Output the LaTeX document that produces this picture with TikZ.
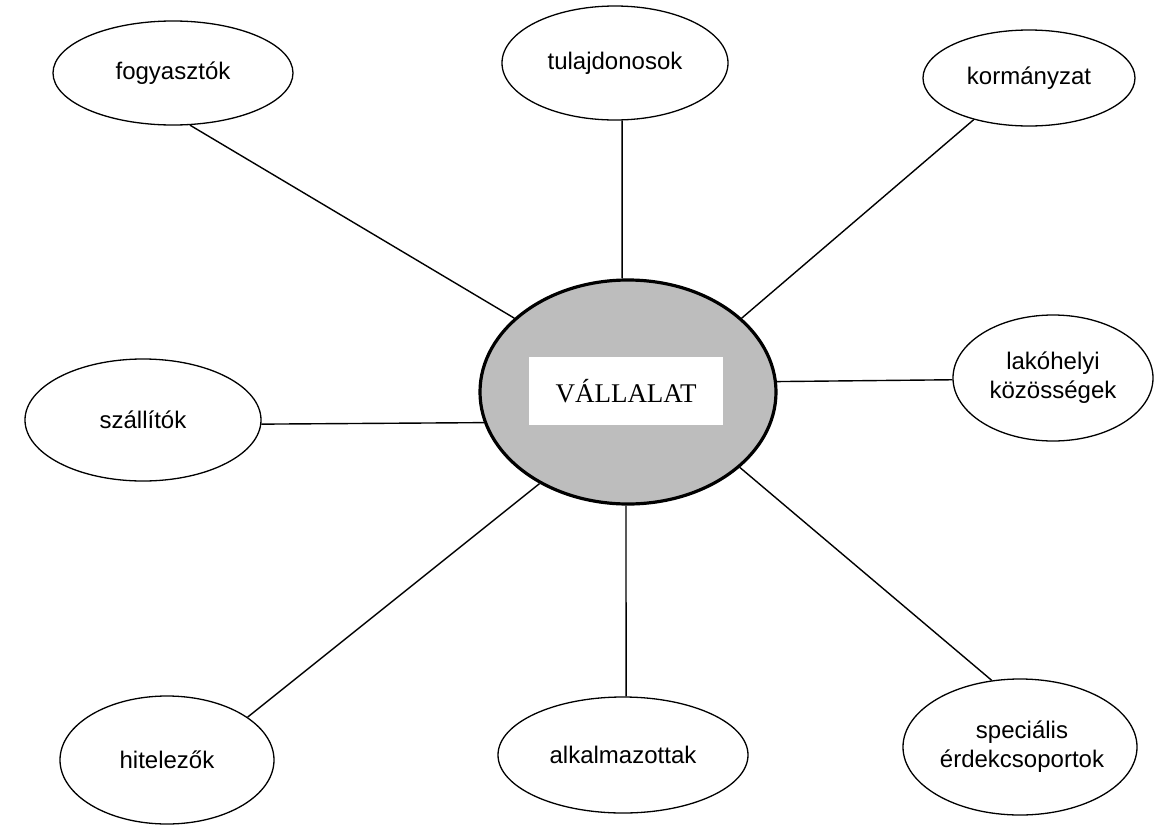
\documentclass[tikz,border=0pt]{standalone}
\usepackage{fontspec}
\setmainfont{Liberation Sans}
\newfontfamily\serifrm{Liberation Serif}
\usetikzlibrary{shapes.geometric}
\begin{document}
\begin{tikzpicture}[x=1pt,y=-1pt,
  party/.style={ellipse,draw=black,line width=1.3pt,inner sep=0pt,align=center,
     font=\fontsize{24}{29}\selectfont},
  link/.style={draw=black,line width=1.4pt}]
\useasboundingbox[fill=white] (0,0) rectangle (1163,825);
% centre
\node[ellipse,draw=black,line width=3.2pt,fill=black!26,minimum width=296,minimum height=224,inner sep=0pt] (V) at (628,392) {};
\node[fill=white,minimum width=194,minimum height=68,inner sep=0pt,font=\serifrm\fontsize{27}{31}\selectfont] (VT) at (626,391) {VÁLLALAT};
% parties
\node[party,minimum width=240,minimum height=104] (F) at (173,73) {fogyasztók};
\node[party,minimum width=226,minimum height=114] (T) at (615,63) {tulajdonosok};
\node[party,minimum width=212,minimum height=96] (K) at (1029,78) {kormányzat};
\node[party,minimum width=200,minimum height=126] (L) at (1053,378) {lakóhelyi\\közösségek};
\node[party,minimum width=236,minimum height=122] (S) at (143,420) {szállítók};
\node[party,minimum width=214,minimum height=128] (H) at (167,760) {hitelezők};
\node[party,minimum width=250,minimum height=116] (A) at (623,755) {alkalmazottak};
\node[party,minimum width=234,minimum height=136] (Sp) at (1020,747) {};
\node[fill=white,inner sep=1pt,align=center,font=\fontsize{24}{29}\selectfont] (SpT) at (1022,747) {speciális\\érdekcsoportok};
% connectors
\draw[link] (F.-72.6) -- (V.147.9);
\draw[link] (T.-83) -- (V.93);
\draw[link] (K.-143.3) -- (V.33.1);
\draw[link] (V.4.2) -- (L.181);
\draw[link] (S.-2.4) -- (V.-168.7);
\draw[link] (H.28.1) -- (V.-134.4);
\draw[link] (A.87) -- (V.-91);
\draw[link] (V.-34.2) -- (Sp.113.4);
\end{tikzpicture}
\end{document}
